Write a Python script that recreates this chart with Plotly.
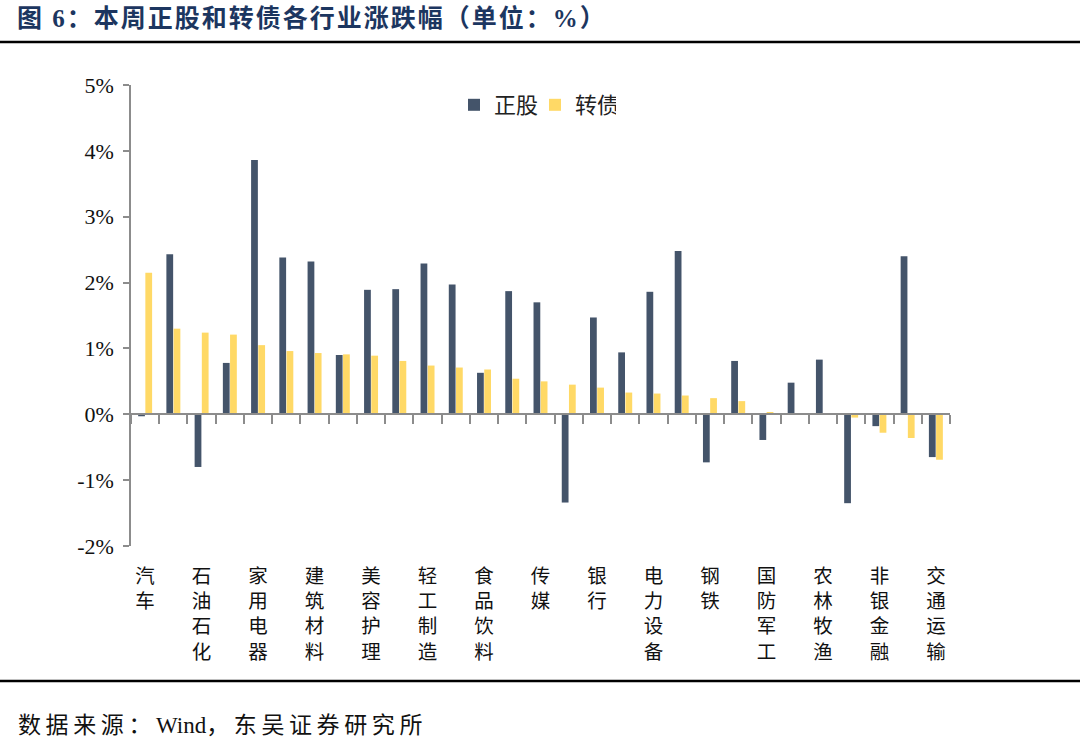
import plotly.graph_objects as go

# ---------------- data ----------------
categories = ["汽车", "机械设备", "石油石化", "医药生物", "家用电器", "基础化工", "建筑材料", "电子",
              "美容护理", "有色金属", "轻工制造", "计算机", "食品饮料", "通信", "传媒", "房地产",
              "银行", "公用事业", "电力设备", "环保", "钢铁", "纺织服饰", "国防军工", "商贸零售",
              "农林牧渔", "煤炭", "非银金融", "建筑装饰", "交通运输"]
stock_chg = [-0.03, 2.43, -0.80, 0.78, 3.86, 2.38, 2.32, 0.90, 1.89, 1.90, 2.29, 1.97, 0.63, 1.87,
             1.70, -1.34, 1.47, 0.94, 1.86, 2.48, -0.73, 0.81, -0.39, 0.48, 0.83, -1.35, -0.18,
             2.40, -0.65]
cb_chg = [2.15, 1.30, 1.24, 1.21, 1.05, 0.96, 0.93, 0.91, 0.89, 0.81, 0.74, 0.71, 0.68, 0.54, 0.50,
          0.45, 0.405, 0.33, 0.315, 0.285, 0.245, 0.20, 0.035, 0.015, 0.0, -0.05, -0.28, -0.36, -0.69]
y_tickvals = [-2, -1, 0, 1, 2, 3, 4, 5]
y_ticktext = ["-2%", "-1%", "0%", "1%", "2%", "3%", "4%", "5%"]
# only every other category label is shown, written vertically
x_ticktext = ["<br>".join(list(c)) if i % 2 == 0 else "" for i, c in enumerate(categories)]

title_text = "图 6：本周正股和转债各行业涨跌幅（单位：%）"
source_parts = ["数据来源：", "Wind", "，东吴证券研究所"]

# ---------------- layout constants ----------------
W, H = 1080, 740
ML, MR, MT, MB = 131, 130, 85, 194
PW, PH = W - ML - MR, H - MT - MB
Y_MIN, Y_MAX = -2, 5


def px_x(x):
    return (x - ML) / PW


def px_y(y):
    return (H - MB - y) / PH


AXIS_C = "#8C8C8C"
CJK = "Noto Sans CJK SC"
SERIF_CJK = "Liberation Serif, Noto Sans CJK SC"

fig = go.Figure()
fig.add_trace(go.Bar(x=categories, y=stock_chg, name="正股", marker_color="#44546A",
                     marker_line_width=0))
fig.add_trace(go.Bar(x=categories, y=cb_chg, name="转债", marker_color="#FFD966",
                     marker_line_width=0))
# helper trace for the zero-line axis with boundary ticks
fig.add_trace(go.Scatter(x=categories, y=[0] * len(categories), xaxis="x2", mode="markers",
                         marker=dict(opacity=0), showlegend=False, hoverinfo="skip"))

source_html = (f'<span style="letter-spacing:4.6px">{source_parts[0]}</span>{source_parts[1]}'
               f'<span style="letter-spacing:4.6px">{source_parts[2]}</span>')

fig.update_layout(
    width=W, height=H,
    margin=dict(l=ML, r=MR, t=MT, b=MB),
    paper_bgcolor="white", plot_bgcolor="white",
    barmode="group", bargap=0.49, bargroupgap=0.06,
    title=dict(text=f'<span style="letter-spacing:2px">{title_text}</span>',
               xref="container", yref="container", x=17 / W, y=1 - 18 / H,
               xanchor="left", yanchor="middle",
               font=dict(family=SERIF_CJK, size=25, color="#1C3660", weight="bold")),
    legend=dict(orientation="h", x=px_x(454), y=px_y(105), xanchor="left", yanchor="middle",
                font=dict(family=CJK, size=22, color="#222222"), bgcolor="rgba(0,0,0,0)",
                traceorder="normal", entrywidth=36),
    xaxis=dict(type="category", categoryorder="array", categoryarray=categories,
               range=[-0.5, len(categories) - 0.5],
               tickmode="array", tickvals=categories, ticktext=x_ticktext, tickangle=0,
               ticks="", showline=False, showgrid=False, zeroline=False, ticklabelstandoff=16,
               tickfont=dict(family=CJK, size=19.5, color="#111111")),
    xaxis2=dict(type="category", categoryorder="array", categoryarray=categories,
                range=[-0.5, len(categories) - 0.5], overlaying="x", anchor="free",
                position=(0 - Y_MIN) / (Y_MAX - Y_MIN), side="bottom",
                showline=True, linecolor=AXIS_C, linewidth=1.6,
                ticks="outside", tickson="boundaries", ticklen=9, tickwidth=1.6, tickcolor=AXIS_C,
                showticklabels=False, showgrid=False, zeroline=False),
    yaxis=dict(range=[Y_MIN, Y_MAX], tickmode="array", tickvals=y_tickvals, ticktext=y_ticktext,
               showline=True, linecolor=AXIS_C, linewidth=1.6,
               ticks="outside", ticklen=6, tickwidth=1.6, tickcolor=AXIS_C,
               showgrid=False, zeroline=False, ticklabelstandoff=5,
               tickfont=dict(family="Liberation Serif", size=22, color="#111111")),
    shapes=[
        dict(type="line", xref="paper", yref="paper", x0=px_x(0), x1=px_x(W),
             y0=px_y(42), y1=px_y(42), line=dict(color="#000000", width=2.6)),
        dict(type="line", xref="paper", yref="paper", x0=px_x(0), x1=px_x(W),
             y0=px_y(681), y1=px_y(681), line=dict(color="#000000", width=2.6)),
    ],
    annotations=[
        dict(text=source_html,
             xref="paper", yref="paper", x=px_x(16), y=px_y(725),
             xanchor="left", yanchor="middle", showarrow=False,
             font=dict(family=SERIF_CJK, size=23, color="#111111")),
    ],
)

fig.write_html("out.html", config={"displayModeBar": False},
               post_script="document.body.style.margin='0';document.body.style.overflow='hidden';")
